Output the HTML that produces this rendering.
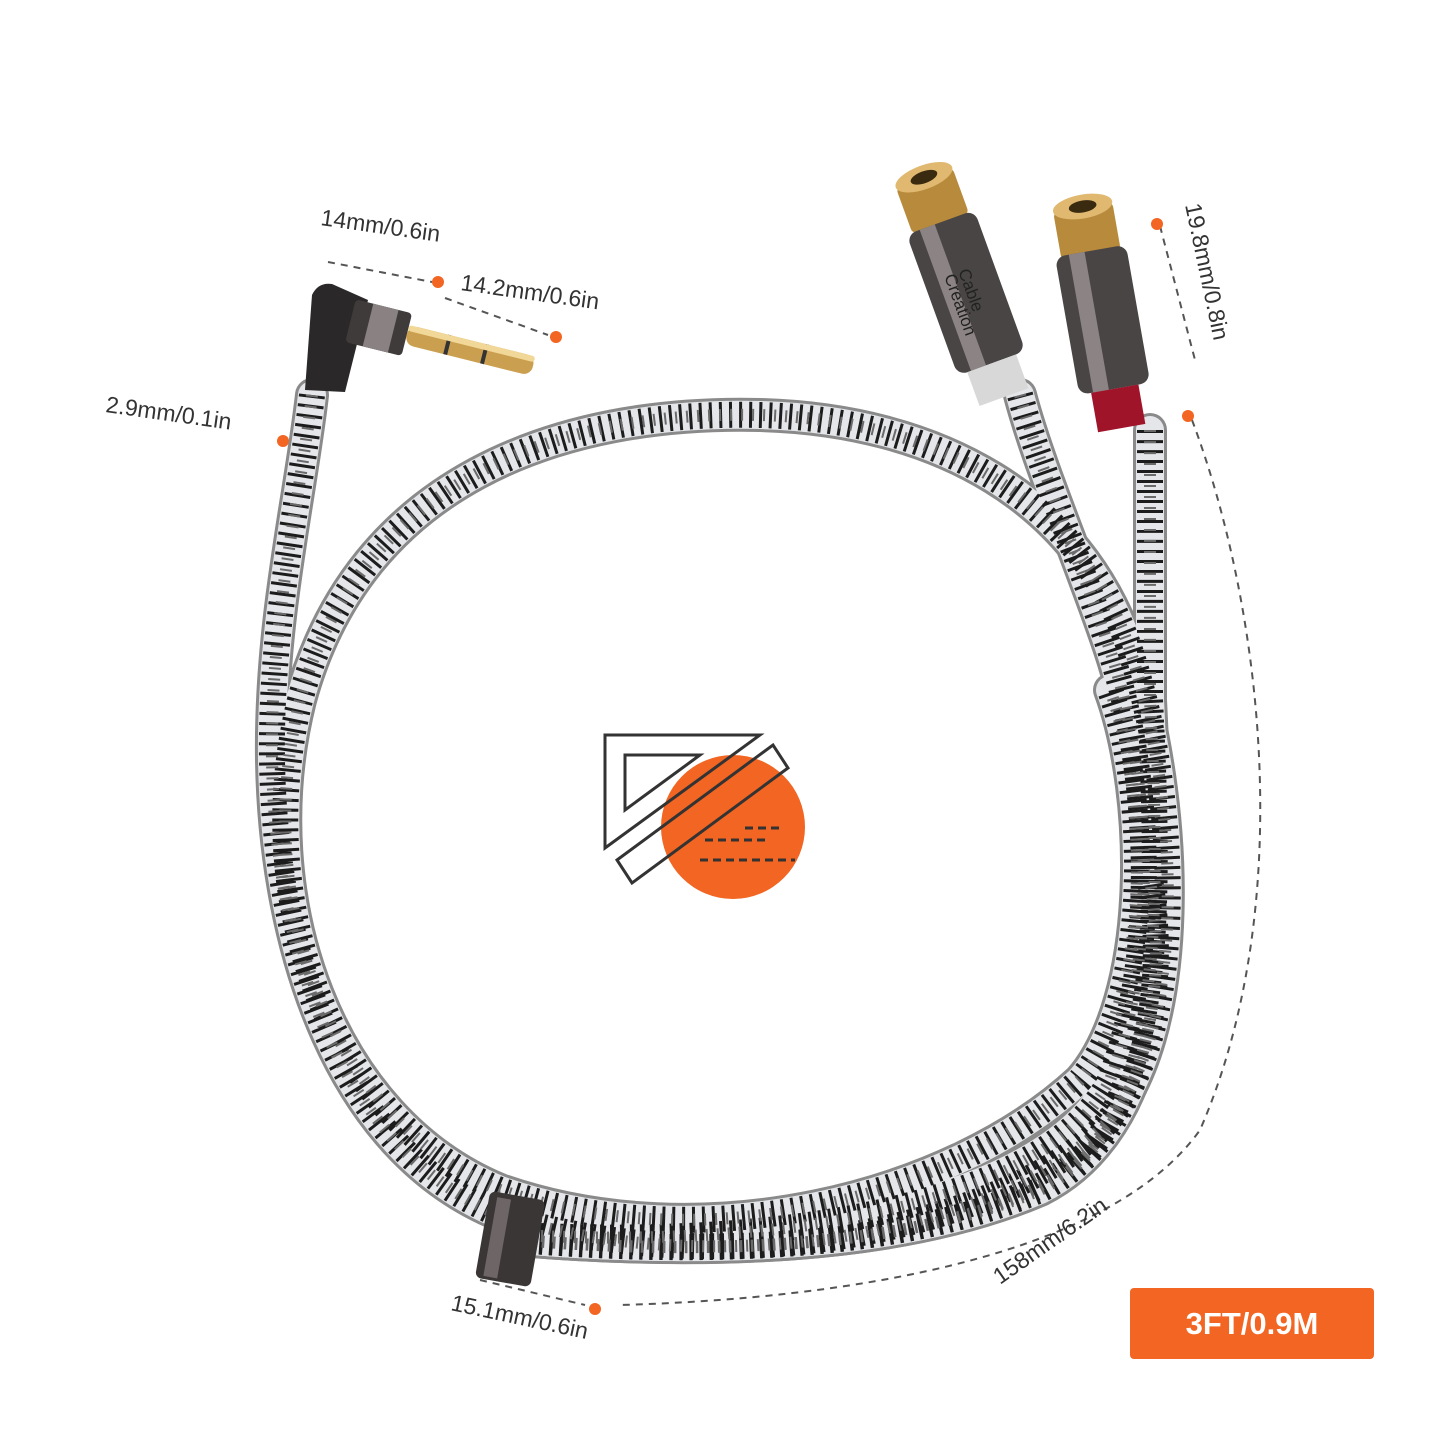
<!DOCTYPE html>
<html><head><meta charset="utf-8"><style>
body{margin:0;background:#fff;}
svg{display:block;font-family:"Liberation Sans",sans-serif;}
</style></head><body>
<svg width="1445" height="1445" viewBox="0 0 1445 1445" xmlns="http://www.w3.org/2000/svg">
<g fill="none" stroke-linecap="round">
<g id="strands">
<path d="M312 395 C300 500 270 620 272 760 C275 950 340 1150 500 1215 C700 1280 980 1240 1100 1130 C1190 1040 1180 800 1130 650 C1080 500 940 420 760 415 C560 410 360 480 300 700 C250 900 330 1120 500 1190 C700 1260 950 1200 1080 1080 C1150 1000 1150 800 1110 690"/>
<path d="M1020 395 C1040 470 1080 560 1110 650 C1150 770 1160 950 1110 1080 C1050 1200 800 1250 520 1235"/>
<path d="M1150 430 C1150 520 1150 600 1150 700 C1160 900 1160 1060 1090 1150 C1000 1240 760 1260 520 1240"/>
<path d="M520 1240 C700 1255 900 1250 1040 1190 C1140 1140 1170 1000 1150 880"/>
</g>
<use href="#strands" stroke="#8a8a8a" stroke-width="34"/>
<use href="#strands" stroke="#e4e6ea" stroke-width="28"/>
<use href="#strands" stroke="#1c1c1c" stroke-width="26" stroke-dasharray="3 7" stroke-linecap="butt"/>
<use href="#strands" stroke="#6a6a6a" stroke-width="12" stroke-dasharray="2 9" stroke-linecap="butt"/>
</g>
<g transform="translate(510 1240) rotate(10)">
<rect x="-28" y="-45" width="56" height="88" rx="6" fill="#3b3636"/>
<rect x="-20" y="-40" width="14" height="80" fill="#6e6666"/>
</g>
<g>
<path d="M305 390 L312 295 Q318 282 332 284 L368 300 L345 392 Z" fill="#2a2828"/>
<g transform="translate(368 325) rotate(14)">
<rect x="-18" y="-22" width="58" height="44" rx="4" fill="#3f3b3b"/>
<rect x="0" y="-22" width="26" height="44" fill="#8a8282"/>
<rect x="40" y="-10" width="130" height="20" rx="9" fill="#caa050"/>
<rect x="80" y="-10" width="4" height="20" fill="#333"/>
<rect x="118" y="-10" width="4" height="20" fill="#333"/>
<rect x="40" y="-10" width="130" height="6" rx="3" fill="#f2d898"/>
</g>
</g>
<g transform="translate(965 290) rotate(-20)">
<rect x="-30" y="-120" width="60" height="50" rx="6" fill="#b88b3c"/>
<ellipse cx="0" cy="-120" rx="30" ry="12" fill="#e0b870"/>
<ellipse cx="0" cy="-120" rx="14" ry="6" fill="#3a2a10"/>
<rect x="-36" y="-72" width="72" height="150" rx="10" fill="#4a4545"/>
<rect x="-22" y="-72" width="16" height="150" fill="#8c8484"/>
<rect x="-26" y="78" width="52" height="36" fill="#d8d8d8"/>
<text x="0" y="-20" font-size="17" fill="#222" transform="rotate(90 0 -20)">Cable</text>
<text x="-15" y="-20" font-size="17" fill="#222" transform="rotate(90 -15 -20)">Creation</text>
</g>
<g transform="translate(1100 305) rotate(-10)">
<rect x="-30" y="-100" width="60" height="50" rx="6" fill="#b88b3c"/>
<ellipse cx="0" cy="-100" rx="30" ry="12" fill="#e0b870"/>
<ellipse cx="0" cy="-100" rx="14" ry="6" fill="#3a2a10"/>
<rect x="-36" y="-55" width="72" height="140" rx="10" fill="#4a4545"/>
<rect x="-22" y="-55" width="16" height="140" fill="#8c8484"/>
<rect x="-24" y="85" width="48" height="40" fill="#a0142a"/>
</g>
<g stroke="#555" stroke-width="2" fill="none" stroke-dasharray="7 6">
<path d="M328 262 L432 282"/>
<path d="M445 298 L548 335"/>
<path d="M1160 226 L1195 360"/>
<path d="M1192 420 C1260 600 1300 900 1200 1130 C1100 1270 800 1300 620 1305"/>
<path d="M480 1280 L585 1305"/>
</g>
<g fill="#f26522">
<circle cx="438" cy="282" r="6"/><circle cx="556" cy="337" r="6"/><circle cx="283" cy="441" r="6"/>
<circle cx="1157" cy="224" r="6"/><circle cx="1188" cy="416" r="6"/><circle cx="595" cy="1309" r="6"/>
</g>
<g font-size="23" fill="#333">
<text x="320" y="225" transform="rotate(8 320 225)">14mm/0.6in</text>
<text x="460" y="290" transform="rotate(8 460 290)">14.2mm/0.6in</text>
<text x="105" y="412" transform="rotate(8 105 412)">2.9mm/0.1in</text>
<text x="1185" y="205" transform="rotate(78 1185 205)">19.8mm/0.8in</text>
<text x="1000" y="1285" transform="rotate(-35 1000 1285)">158mm/6.2in</text>
<text x="450" y="1310" transform="rotate(12 450 1310)">15.1mm/0.6in</text>
</g>
<circle cx="733" cy="827" r="72" fill="#f26522"/>
<g fill="none" stroke="#333" stroke-width="3">
<path d="M605 735 L760 735 L605 848 Z"/>
<path d="M625 755 L700 755 L625 810 Z"/>
<path d="M617 860 L773 745 L788 768 L632 883 Z"/>
<path d="M705 840 L770 840 M745 828 L780 828 M700 860 L795 860" stroke-dasharray="8 5"/>
</g>
<rect x="1130" y="1288" width="244" height="71" rx="4" fill="#f26522"/>
<text x="1252" y="1334" font-size="31" font-weight="bold" fill="#fff" text-anchor="middle">3FT/0.9M</text>
</svg>
</body></html>
